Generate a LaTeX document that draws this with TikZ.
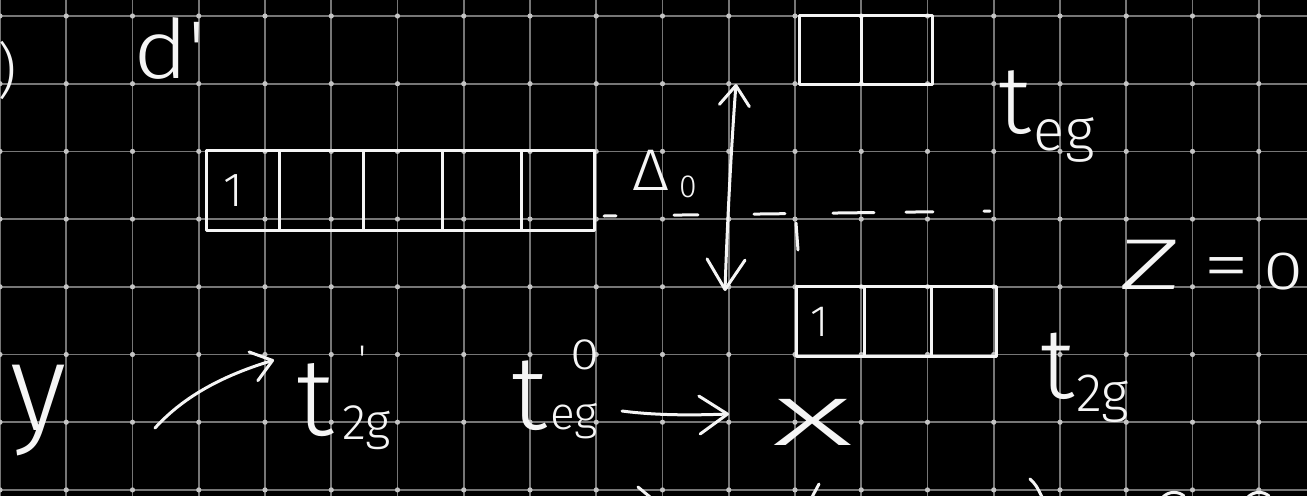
\documentclass[tikz,border=0pt]{standalone}
\usepackage{fontspec}
\newfontfamily\hand{Fira Sans Light}
\usetikzlibrary{arrows.meta}
\definecolor{board}{RGB}{0,0,0}
\definecolor{gridc}{RGB}{118,118,118}
\definecolor{gridd}{RGB}{195,195,195}
\definecolor{ink}{RGB}{245,245,245}
\newcommand{\fs}[1]{\fontsize{#1}{#1}\selectfont}
\newcommand{\lowered}[3]{\raisebox{-#1pt}{\fs{#2}#3}}

\begin{document}
\begin{tikzpicture}[x=1pt,y=-1pt,
  gridline/.style={draw=gridc,line width=1.8pt},
  stroke/.style={draw=ink,line width=3pt,line cap=round,line join=round},
  cell/.style={draw=ink,line width=3pt,rectangle,inner sep=0pt,line join=round,anchor=north west},
  label/.style={text=ink,inner sep=0pt,font=\hand},
  barb/.style 2 args={-{Straight Barb[round,length=#1,width=#2]}}
]
% board and page frame
\fill[board] (0,0) rectangle (1307,496);
\useasboundingbox (0,0) rectangle (1307,496);

% squared paper
\foreach \i in {0,...,19} \draw[gridline] (\i*66.25,0) -- (\i*66.25,496);
\foreach \j in {0,...,7} \draw[gridline] (0,16+\j*67.7) -- (1307,16+\j*67.7);
\foreach \i in {0,...,19} \foreach \j in {0,...,7}
  \fill[gridd] (\i*66.25,16+\j*67.7) circle[radius=2.6pt];

% heading
\node[label,anchor=east] (paren) at (17,70) {\fs{60})};
\node[label,anchor=base west] (dlab) at (133,78) {\fs{82}\scalebox{1.15}[1]{d}\textquotesingle};

% five degenerate d orbitals
\node[cell,minimum width=73pt,minimum height=80pt] (c1) at (205,149) {};
\node[cell,minimum width=84pt,minimum height=80pt] (c2) at (278,149) {};
\node[cell,minimum width=79pt,minimum height=80pt] (c3) at (362,149) {};
\node[cell,minimum width=79pt,minimum height=80pt] (c4) at (441,149) {};
\node[cell,minimum width=73pt,minimum height=80pt] (c5) at (520,149) {};
\node[label] (one1) at (233,191) {\fs{48}1};

% barycentre level
\coordinate (lvlA) at (604,216);
\coordinate (lvlB) at (993,211);
\draw[stroke,dash pattern=on 12pt off 58pt on 24pt off 56pt on 31pt off 48pt on 41pt off 32pt on 27pt off 51pt on 6pt off 60pt] (lvlA) -- (lvlB);
\draw[stroke] (796,223) -- (798,250);
\node[label,anchor=base west] (delta) at (632,190)
  {\fs{56}\scalebox{1.15}[1.05]{Δ}\hspace{10pt}\lowered{7}{32}{0}};

% splitting arrow
\coordinate (dtop) at (736,84);
\coordinate (dbot) at (725,291);
\draw[stroke,{Straight Barb[round,length=20pt,width=30pt]}-{Straight Barb[round,length=30pt,width=38pt]}]
  (dtop) .. controls (731,150) and (727,230) .. (dbot);

% e_g pair
\node[cell,minimum width=62pt,minimum height=69pt] (e1) at (798,14) {};
\node[cell,minimum width=71pt,minimum height=69pt] (e2) at (860,14) {};
\node[label,anchor=base west] (teg) at (998,133) {\fs{96}t\hspace{3pt}\lowered{17}{58}{eg}};

% t_2g triplet
\node[cell,minimum width=68pt,minimum height=70pt] (b1) at (795,285) {};
\node[cell,minimum width=67pt,minimum height=70pt] (b2) at (863,285) {};
\node[cell,minimum width=65pt,minimum height=70pt] (b3) at (930,285) {};
\node[label] (one2) at (820,322) {\fs{44}1};
\node[label,anchor=base west] (t2gR) at (1040,398) {\fs{100}t\hspace{2pt}\lowered{13}{54}{2g}};

\node[label,anchor=base west] (zeq) at (1118,289)
  {\fs{72}\scalebox{1.7}[1]{Z}\hspace{22pt}\scalebox{1.3}[1]{=}\hspace{14pt}{\fs{54}\scalebox{1.35}[1]{0}}};

% configuration line
\node[label,anchor=base west] (ylab) at (10,430) {\fs{100}\scalebox{1.2}[1.25]{y}};
\node[label,anchor=base west] (t2g1) at (296,435)
  {\fs{110}t\hspace{9pt}\rlap{\hspace{16pt}\raisebox{62pt}{\fs{40}\textquotesingle}}\lowered{4}{50}{2g}};
\node[label,anchor=base west] (teg0) at (511,429)
  {\fs{105}t\hspace{3pt}\rlap{\hspace{20pt}\raisebox{60pt}{\fs{44}\scalebox{1.2}[1]{0}}}\lowered{0}{46}{eg}};
\node[label,anchor=base west] (xlab) at (772,445) {\fs{84}\scalebox{2.1}[1.05]{x}};

\coordinate (a1s) at (155,428);
\coordinate (a1e) at (274,360);
\draw[stroke,barb={20pt}{30pt}] (a1s) .. controls (185,395) and (225,375) .. (a1e);
\coordinate (a2s) at (622,411);
\coordinate (a2e) at (729,414);
\draw[stroke,barb={28pt}{38pt}] (a2s) .. controls (660,416) and (700,415) .. (a2e);

% strokes of the next line, cut by the page edge
\draw[stroke] (638,487) -- (650,497);
\draw[stroke] (819,484) -- (812,497);
\draw[stroke] (1030,479) .. controls (1036,485) .. (1042,497);
\draw[stroke] (1163,497) .. controls (1169,491) and (1178,491) .. (1184,496);
\draw[stroke] (1248,497) .. controls (1254,491) and (1263,491) .. (1269,496);
\end{tikzpicture}
\end{document}
